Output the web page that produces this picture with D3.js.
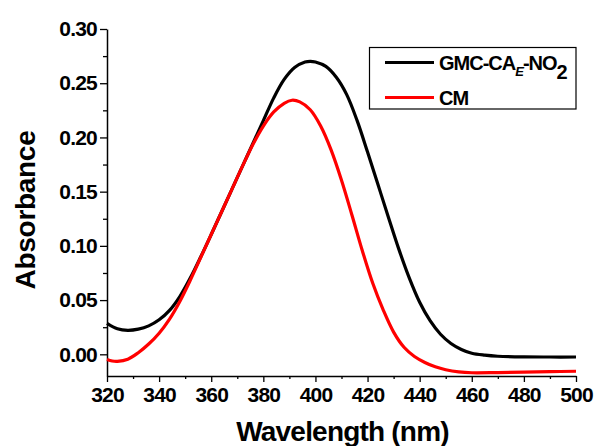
<!DOCTYPE html>
<html>
<head>
<meta charset="utf-8">
<script src="https://cdn.jsdelivr.net/npm/d3@7/dist/d3.min.js"></script>
<style>
  html, body { margin: 0; padding: 0; background: #fff; }
  svg { display: block; font-family: "Liberation Sans", Arial, sans-serif; }
</style>
</head>
<body>
<svg id="chart" width="596" height="446"></svg>
<script>
// UV-Vis absorption spectra
const wavelengthsBlack = [320, 324, 328, 332, 336, 340, 344, 348, 352, 356, 360, 364, 368, 372, 376, 380, 384, 388, 392, 396, 398, 400, 404, 408, 412, 416, 420, 424, 428, 432, 436, 440, 444, 448, 452, 456, 460, 465, 470, 480, 490, 500];
const absorbanceBlack = [0.0285, 0.0235, 0.0221, 0.0232, 0.0262, 0.0318, 0.0405, 0.0535, 0.0705, 0.090, 0.1105, 0.1315, 0.1525, 0.1735, 0.1945, 0.2155, 0.2365, 0.2535, 0.2645, 0.2695, 0.2702, 0.2695, 0.2655, 0.2555, 0.2395, 0.2155, 0.1865, 0.1565, 0.1265, 0.0970, 0.0705, 0.0480, 0.0310, 0.0185, 0.0100, 0.0045, 0.0010, -0.0008, -0.0018, -0.0024, -0.0025, -0.0025];

const wavelengthsRed = [320, 322, 324, 328, 332, 336, 340, 344, 348, 352, 356, 360, 364, 368, 372, 376, 380, 384, 388, 391, 394, 398, 402, 406, 410, 414, 418, 422, 426, 430, 434, 438, 442, 446, 450, 455, 460, 470, 480, 490, 500];
const absorbanceRed = [-0.0048, -0.0062, -0.0065, -0.0045, 0.0015, 0.0095, 0.0195, 0.0325, 0.049, 0.0685, 0.0895, 0.1105, 0.1315, 0.1525, 0.1735, 0.1935, 0.2105, 0.2235, 0.2315, 0.2343, 0.2328, 0.2255, 0.2105, 0.1885, 0.1605, 0.1285, 0.0955, 0.0655, 0.041, 0.0205, 0.0065, -0.002, -0.0075, -0.0115, -0.0142, -0.0162, -0.0170, -0.0168, -0.0164, -0.0160, -0.0156];

const xTicks = [320, 340, 360, 380, 400, 420, 440, 460, 480, 500];
const xMinorTicks = [330, 350, 370, 390, 410, 430, 450, 470, 490];
const yTicks = [0.00, 0.05, 0.10, 0.15, 0.20, 0.25, 0.30];
const yMinorTicks = [0.025, 0.075, 0.125, 0.175, 0.225, 0.275];

const seriesNames = ["GMC-CA_E-NO_2", "CM"];
const seriesColors = ["#000000", "#ff0000"];

const svg = d3.select("#chart");
const plotLeft = 107, plotRight = 576, plotTop = 29, plotBottom = 376;

const x = d3.scaleLinear().domain([320, 500]).range([plotLeft, plotRight]);
const y = d3.scaleLinear().domain([-0.02, 0.30]).range([plotBottom, plotTop]);

// minor ticks
svg.append("g")
  .attr("transform", `translate(0,${plotBottom})`)
  .call(d3.axisBottom(x).tickValues(xMinorTicks).tickSize(3).tickFormat(""))
  .call(g => g.select(".domain").remove())
  .call(g => g.selectAll("line").attr("stroke-width", 1.3));
svg.append("g")
  .attr("transform", `translate(${plotLeft},0)`)
  .call(d3.axisLeft(y).tickValues(yMinorTicks).tickSize(4).tickFormat(""))
  .call(g => g.select(".domain").remove())
  .call(g => g.selectAll("line").attr("stroke-width", 1.3));

// major axes
const xAxis = svg.append("g")
  .attr("transform", `translate(0,${plotBottom})`)
  .call(d3.axisBottom(x).tickValues(xTicks).tickSize(6).tickSizeOuter(0).tickPadding(5).tickFormat(d3.format("d")));
const yAxis = svg.append("g")
  .attr("transform", `translate(${plotLeft},0)`)
  .call(d3.axisLeft(y).tickValues(yTicks).tickSize(7).tickSizeOuter(0).tickPadding(3).tickFormat(d3.format(".2f")));

[xAxis, yAxis].forEach(a => {
  a.select(".domain").attr("stroke-width", 1.5);
  a.selectAll(".tick line").attr("stroke-width", 1.3);
  a.selectAll(".tick text")
    .attr("font-family", "'Liberation Sans', Arial, sans-serif")
    .attr("font-weight", "bold")
    .attr("font-size", 21)
    .attr("letter-spacing", -0.8)
    .attr("fill", "#000");
});

// axis titles
svg.append("text")
  .attr("x", (plotLeft + plotRight) / 2 + 1)
  .attr("y", 441)
  .attr("text-anchor", "middle")
  .attr("font-weight", "bold")
  .attr("font-size", 28)
  .attr("letter-spacing", -0.8)
  .text("Wavelength (nm)");

svg.append("text")
  .attr("transform", "translate(35,210) rotate(-90)")
  .attr("text-anchor", "middle")
  .attr("font-weight", "bold")
  .attr("font-size", 28)
  .attr("letter-spacing", -0.3)
  .text("Absorbance");

// spectra
const line = d3.line()
  .x(d => x(d[0]))
  .y(d => y(d[1]))
  .curve(d3.curveCatmullRom.alpha(0.5));

const series = [
  d3.zip(wavelengthsBlack, absorbanceBlack),
  d3.zip(wavelengthsRed, absorbanceRed)
];

// black first, red on top where the two spectra coincide
svg.append("path").datum(series[0])
  .attr("d", line).attr("fill", "none")
  .attr("stroke", seriesColors[0]).attr("stroke-width", 3.2);
svg.append("path").datum(series[1])
  .attr("d", line).attr("fill", "none")
  .attr("stroke", seriesColors[1]).attr("stroke-width", 3.2);

// legend
const legend = svg.append("g");
legend.append("rect")
  .attr("x", 369.5).attr("y", 47.5).attr("width", 206.5).attr("height", 61.5)
  .attr("fill", "#fff").attr("stroke", "#000").attr("stroke-width", 1.2);

const legendY = [62.5, 97.5];
legendY.forEach((ly, i) => {
  legend.append("line")
    .attr("x1", 385).attr("x2", 434).attr("y1", ly).attr("y2", ly)
    .attr("stroke", seriesColors[i]).attr("stroke-width", 3.2);
});

const t1 = legend.append("text")
  .attr("x", 439).attr("y", 70)
  .attr("font-weight", "bold").attr("font-size", 20).attr("letter-spacing", -1);
t1.append("tspan").text("GMC-CA");
t1.append("tspan").attr("dy", 6).attr("font-size", 13).attr("font-style", "italic").text("E");
t1.append("tspan").attr("dy", -6).text("-NO");
t1.append("tspan").attr("dy", 9).attr("font-size", 20).text("2");

legend.append("text")
  .attr("x", 439).attr("y", 105)
  .attr("font-weight", "bold").attr("font-size", 20).attr("letter-spacing", -1)
  .text(seriesNames[1]);
</script>
</body>
</html>
